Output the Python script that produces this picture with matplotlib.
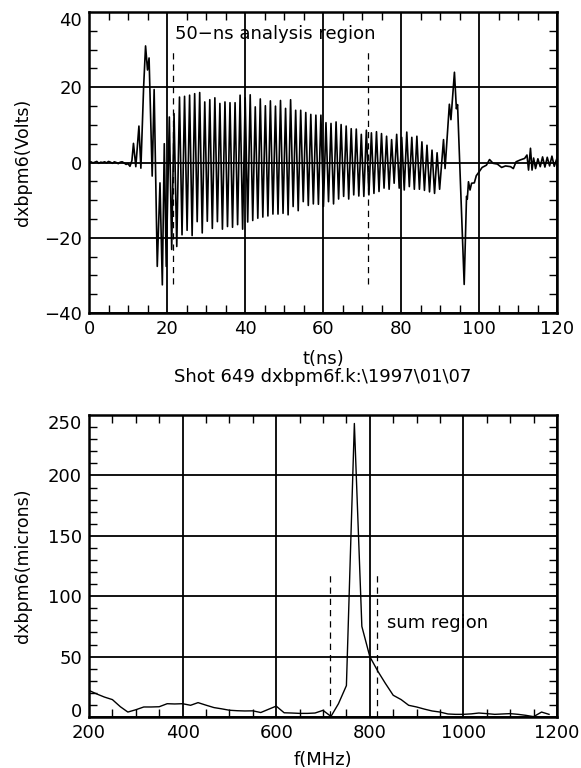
#!/usr/bin/env python3
"""Recreate the dxbpm6 shot 649 waveform and its spectrum (two stacked panels)."""

import numpy as np
import matplotlib
matplotlib.use('Agg')
import matplotlib.pyplot as plt
from matplotlib.ticker import MultipleLocator

# --- time trace (ns, Volts) ---
# quiet baseline and the leading transient
pre_t = [0.0, 0.5, 1.0, 1.5, 2.0, 2.5, 3.0, 3.5, 4.0, 4.5, 5.0, 5.5, 6.0, 6.5,
         7.0, 7.5, 8.0, 8.5, 9.0, 9.5, 10.0, 10.5, 11.0, 11.4, 12.0, 12.8,
         13.3, 14.0, 14.5, 15.0, 15.4, 16.2, 16.7, 17.5, 18.2, 18.8, 19.3,
         19.8, 20.6, 21.2, 21.8, 22.5]
pre_v = [0.0, 0.2, -0.1, 0.1, 0.3, -0.2, 0.1, 0.0, 0.2, -0.1, 0.3, 0.1, -0.2,
         0.2, 0.0, -0.3, 0.1, 0.2, -0.1, -0.5, -0.3, -1.0, 0.5, 5.1, -1.1, 9.7,
         -1.5, 20.0, 31.0, 24.6, 27.8, -3.6, 19.4, -27.6, -5.4, -32.5, 5.0,
         -27.6, 12.1, -23.1, 13.0, -22.3]

# ringing: crest and trough of each cycle
peak_t = [23.20, 24.50, 25.79, 27.09, 28.38, 29.68, 30.97, 32.27, 33.56, 34.86,
          36.15, 37.45, 38.74, 40.04, 41.33, 42.63, 43.92, 45.22, 46.51, 47.81,
          49.10, 50.40, 51.69, 52.99, 54.28, 55.58, 56.87, 58.17, 59.46, 60.76,
          62.05, 63.35, 64.64, 65.94, 67.23, 68.53, 69.82, 71.12, 72.41, 73.71,
          75.00, 76.30, 77.59, 78.89, 80.18, 81.48, 82.77, 84.07, 85.36, 86.66,
          87.95, 89.25]
peak_v = [17.4, 17.6, 17.9, 18.3, 18.6, 16.1, 16.7, 17.2, 15.7, 16.1,
          15.9, 15.9, 17.9, 17.2, 18.0, 14.8, 16.9, 15.1, 16.4, 15.0,
          16.5, 14.4, 16.7, 13.9, 13.9, 13.3, 12.8, 12.6, 12.6, 10.6,
          10.4, 10.8, 10.1, 9.7, 9.0, 8.9, 7.5, 8.6, 7.9, 8.2,
          7.7, 7.0, 6.1, 7.5, 6.7, 8.1, 6.7, 7.0, 5.5, 4.6,
          3.3, 2.6]
trough_t = [23.85, 25.15, 26.44, 27.74, 29.03, 30.33, 31.62, 32.92, 34.21, 35.51,
            36.80, 38.10, 39.39, 40.69, 41.98, 43.28, 44.57, 45.87, 47.16, 48.46,
            49.75, 51.05, 52.34, 53.64, 54.93, 56.23, 57.52, 58.82, 60.11, 61.41,
            62.70, 64.00, 65.29, 66.59, 67.88, 69.18, 70.47, 71.77, 73.06, 74.36,
            75.65, 76.95, 78.24, 79.54, 80.83, 82.13, 83.42, 84.72, 86.01, 87.31,
            88.60, 89.90]
trough_v = [-19.2, -18.0, -19.4, -15.7, -18.7, -15.6, -17.5, -15.7, -17.7, -17.0,
            -17.2, -16.5, -17.7, -15.8, -15.4, -14.8, -14.5, -14.2, -13.7, -13.7,
            -13.5, -13.9, -11.7, -12.8, -10.4, -11.4, -11.0, -11.1, -11.7, -10.4,
            -11.0, -9.7, -9.0, -9.7, -8.6, -8.9, -9.0, -8.6, -8.2, -7.7,
            -6.8, -7.1, -5.5, -6.8, -7.3, -6.4, -7.1, -7.1, -7.4, -7.8,
            -8.2, -7.1]

# trailing transient and noisy tail
post_t = [90.9, 91.3, 92.4, 92.8, 93.7, 94.2, 94.5, 96.2, 96.8, 97.0, 97.3,
          97.7, 98.1, 98.8, 99.3, 100.0, 100.8, 101.9, 102.7, 103.6, 104.7,
          105.8, 106.8, 108.1, 108.8, 109.5, 110.6, 111.7, 112.3, 112.7, 113.2,
          113.6, 114.0, 114.5, 115.1, 115.7, 116.3, 116.9, 117.5, 118.1, 118.7,
          119.3, 120.0]
post_v = [6.1, -1.6, 15.5, 11.4, 24.0, 14.3, 15.4, -32.4, -9.0, -9.7, -5.1,
          -7.3, -5.5, -5.4, -3.5, -2.5, -1.3, -0.7, 0.8, -0.2, -0.4,
          -1.3, -0.9, -1.1, -1.6, 0.2, 0.7, 1.1, 2.0, -2.0, 3.8,
          -2.0, 1.2, -1.6, 1.0, -1.1, 1.5, -1.2, 1.4, -0.9, 1.7,
          -1.0, 1.2]

window_t = [21.5, 71.5]          # 50-ns analysis region

# --- spectrum (MHz, microns) ---
freq = [200, 217, 233, 250, 267, 283, 300, 317, 333, 350, 367, 383, 400, 417,
        433, 450, 467, 483, 500, 517, 533, 550, 567, 583, 600, 617, 633, 650,
        667, 683, 700, 717, 733, 750, 767, 783, 800, 817, 833, 850, 867, 883,
        900, 917, 933, 950, 967, 983, 1000, 1017, 1033, 1050, 1067, 1083, 1100,
        1117, 1133, 1150, 1167, 1183]
amp = [22.0, 19.0, 16.5, 14.4, 8.5, 4.1, 6.0, 8.3, 8.3, 8.5, 11.0, 10.8, 11.0,
       9.7, 11.9, 9.8, 7.8, 6.8, 5.6, 5.2, 5.0, 5.1, 3.7, 6.3, 9.0, 3.5, 3.3,
       3.0, 3.0, 3.3, 5.5, 0.5, 11.0, 26.0, 243.0, 75.0, 50.0, 38.0, 28.0, 18.0,
       14.4, 9.7, 8.3, 6.5, 5.0, 4.1, 2.5, 2.2, 2.2, 2.6, 3.3, 2.8, 2.2, 2.5,
       2.8, 2.2, 1.4, 0.3, 4.1, 2.2]

sum_f = [716, 816]               # sum region

FS = 13
DASH = (0, (5, 4))


def style_axes(ax, xmin, xmax, xmaj, xmin_step, ymin, ymax, ymaj, ymin_step):
    """IDL look: full-length black grid at majors, short inward minor ticks on all sides."""
    ax.set_xticks(np.arange(xmin, xmax + 1, xmaj))
    ax.set_yticks(np.arange(ymin, ymax + 1, ymaj))
    ax.set_xlim(xmin, xmax)
    ax.set_ylim(ymin, ymax)
    ax.xaxis.set_minor_locator(MultipleLocator(xmin_step))
    ax.yaxis.set_minor_locator(MultipleLocator(ymin_step))
    ax.tick_params(which='major', length=0, pad=5, labelsize=FS)
    ax.tick_params(which='minor', direction='in', length=6, width=1,
                   top=True, right=True, bottom=True, left=True)
    ax.grid(which='major', color='black', linewidth=1.3)
    for sp in ax.spines.values():
        sp.set_linewidth(1.8)
    # IDL keeps the top label inside the axis height
    ax.get_yticklabels()[-1].set_va('top')


def main():
    fig = plt.figure(figsize=(5.81, 7.68), dpi=100)
    ax1 = fig.add_axes([0.1532, 0.5924, 0.8055, 0.3919])
    ax2 = fig.add_axes([0.1532, 0.0664, 0.8055, 0.3932])

    # top panel: time trace
    osc_t = np.column_stack([peak_t, trough_t]).ravel()
    osc_v = np.column_stack([peak_v, trough_v]).ravel()
    t = np.concatenate([pre_t, osc_t, post_t])
    v = np.concatenate([pre_v, osc_v, post_v])

    ax1.plot(t, v, color='black', linewidth=1.2)
    ax1.vlines(window_t, -32.4, 29.7, colors='black', linestyles=DASH, linewidth=0.9)
    style_axes(ax1, 0, 120, 20, 5, -40, 40, 20, 5)
    ax1.text(22, 34.2, '50\u2212ns analysis region', fontsize=FS, ha='left', va='center')
    ax1.set_ylabel('dxbpm6(Volts)', fontsize=12.5)
    ax1.yaxis.set_label_coords(-0.122, 0.5)
    ax1.set_xlabel('t(ns)\nShot 649 dxbpm6f.k:\\1997\\01\\07', fontsize=FS,
                   linespacing=1.05)
    ax1.xaxis.set_label_coords(0.5, -0.122)

    # bottom panel: spectrum
    ax2.plot(freq, amp, color='black', linewidth=1.0)
    ax2.vlines(sum_f, 0, 121, colors='black', linestyles=DASH, linewidth=0.9)
    style_axes(ax2, 200, 1200, 200, 50, 0, 250, 50, 10)
    ax2.get_yticklabels()[0].set_va('baseline')
    ax2.text(837, 78, 'sum region', fontsize=FS, ha='left', va='center')
    ax2.set_ylabel('dxbpm6(microns)', fontsize=12.5)
    ax2.yaxis.set_label_coords(-0.122, 0.5)
    ax2.set_xlabel('f(MHz)', fontsize=FS)
    ax2.xaxis.set_label_coords(0.5, -0.112)

    fig.savefig('out.png', dpi=100, facecolor='white')


if __name__ == '__main__':
    main()
